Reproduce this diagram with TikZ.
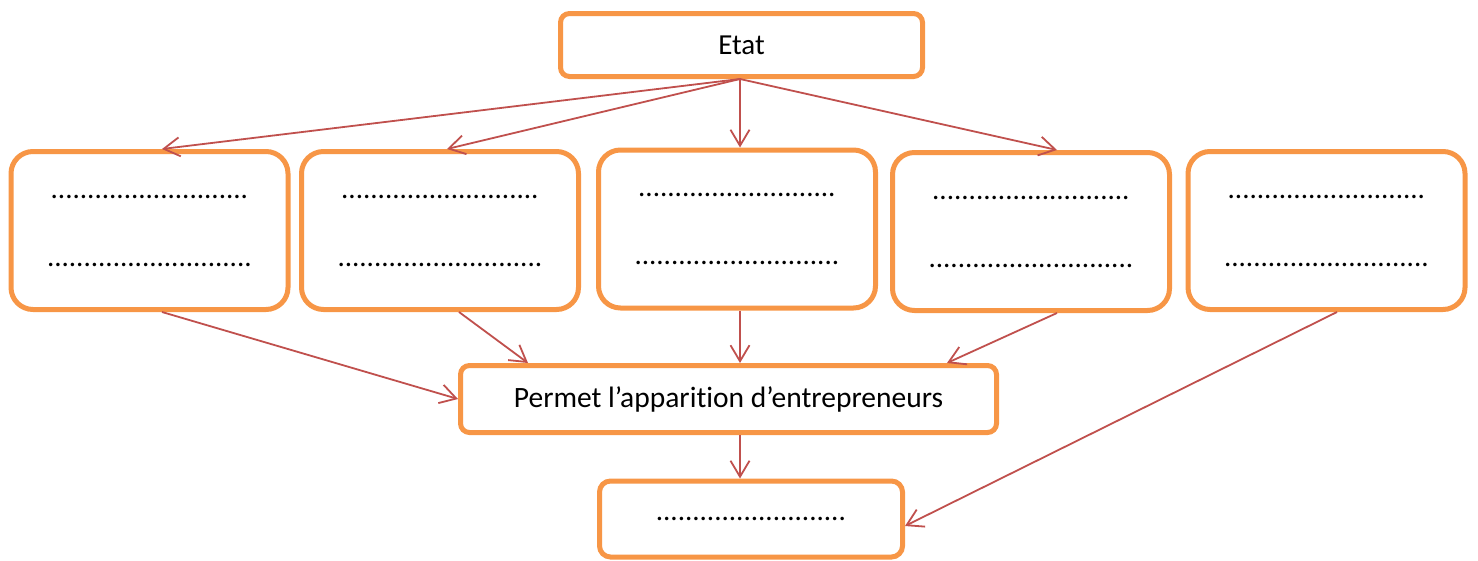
\documentclass[tikz,border=0pt]{standalone}
\usepackage{fontspec}
\setmainfont{Carlito}[Ligatures=NoCommon]
\usetikzlibrary{arrows.meta,calc}
\definecolor{boxorange}{HTML}{F79646}
\definecolor{arrowred}{HTML}{C0504D}
\tikzset{
  obox/.style={draw=boxorange, line width=5pt, fill=white, inner sep=0pt, align=center,
    font=\fontsize{29}{68}\selectfont},
  bigbox/.style={obox, rounded corners=22pt, minimum width=277pt, minimum height=158pt},
  smallbox/.style={obox, rounded corners=9pt},
  conn/.style={draw=arrowred, line width=1.8pt, -{Straight Barb[length=16pt,width=19pt,line width=1.8pt]}}
}
\begin{document}
\begin{tikzpicture}[x=1pt,y=-1pt]
\useasboundingbox (0,0) rectangle (1478,560);
\coordinate (spine) at (740,0);
\node[smallbox, minimum width=362pt, minimum height=63pt] (etat) at (741.5,45) {Etat};
\node[bigbox] (b1) at (149.5,230.5) {...........................\\............................};
\node[bigbox] (b2) at (440,230.5) {...........................\\............................};
\node[bigbox] (b3) at (737,229) {...........................\\............................};
\node[bigbox] (b4) at (1031,231.5) {...........................\\............................};
\node[bigbox] (b5) at (1326.5,230.5) {...........................\\............................};
\node[smallbox, minimum width=536pt, minimum height=67pt, font=\fontsize{29.5}{36}\selectfont] (permet) at (728.5,399) {Permet l’apparition d’entrepreneurs};
\node[smallbox, rounded corners=11pt, minimum width=303pt, minimum height=76pt] (fin) at (751,519) {..........................};
% from Etat
\draw[conn] (etat.south -| spine) -- ($(b1.north)+(12.5,0)$);
\draw[conn] (etat.south -| spine) -- ($(b2.north)+(7,0)$);
\draw[conn] (etat.south -| spine) -- (b3.north -| spine);
\draw[conn] (etat.south -| spine) -- ($(b4.north)+(26,0)$);
% to Permet
\draw[conn] ($(b1.south)+(12.5,0)$) -- (permet.west);
\draw[conn] ($(b2.south)+(19,0)$) -- ($(permet.north)+(-200.5,0)$);
\draw[conn] (b3.south -| spine) -- (permet.north -| spine);
\draw[conn] ($(b4.south)+(26,0)$) -- ($(permet.north)+(218.5,0)$);
% to final
\draw[conn] (permet.south -| spine) -- (fin.north -| spine);
\draw[conn] ($(b5.south)+(10.5,0)$) -- ($(fin.east)+(0,7)$);
\end{tikzpicture}
\end{document}
